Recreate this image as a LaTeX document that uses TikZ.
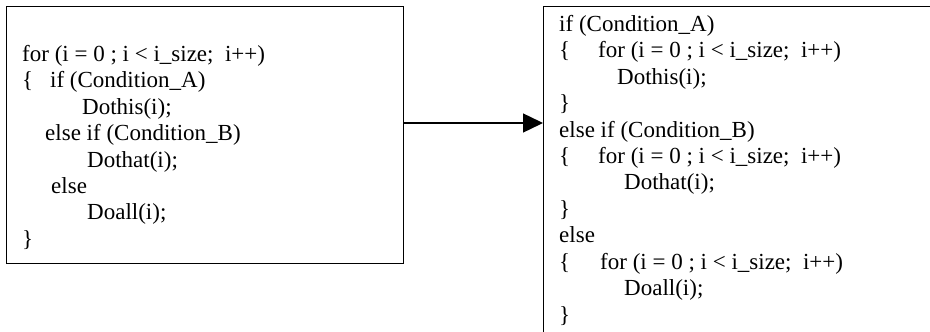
\documentclass[tikz,border=0pt]{standalone}
\usepackage{fontspec}
\setmainfont{Liberation Serif}
\usetikzlibrary{arrows.meta}
\begin{document}
\frenchspacing
\begin{tikzpicture}[x=1pt,y=-1pt,
  codebox/.style={draw=black, line width=1.4pt, rectangle, inner sep=0pt, anchor=north west},
  code/.style={anchor=base west, inner sep=0pt, font=\fontsize{23}{26.5}\selectfont},
  link/.style={line width=1.4pt, -{Triangle[length=20pt,width=19pt]}}]
  \useasboundingbox (0,0) rectangle (930,332);
  \clip (0,0) rectangle (930,332);

  % original loop: one loop, branching inside
  \node[codebox, minimum width=397pt, minimum height=257pt] (lbox) at (6,6) {};
  \node[code] (ltext) at (22,61) {\begin{tabular}[t]{@{}l@{}}
    for (i = 0 ; i < i\_size;\ \ i++)\\
    \makebox[28pt][l]{\{}if (Condition\_A)\\
    \hspace*{60pt}Dothis(i);\\
    \hspace*{23pt}else if (Condition\_B)\\
    \hspace*{65pt}Dothat(i);\\
    \hspace*{29pt}else\\
    \hspace*{65pt}Doall(i);\\
    \}
  \end{tabular}};

  % transformed code: branching outside, one loop per branch
  \node[codebox, minimum width=420pt, minimum height=360pt] (rbox) at (543,6) {};
  \node[code] (rtext) at (559,31) {\begin{tabular}[t]{@{}l@{}}
    if (Condition\_A)\\
    \makebox[39pt][l]{\{}for (i = 0 ; i < i\_size;\ \ i++)\\
    \hspace*{58pt}Dothis(i);\\
    \}\\
    else if (Condition\_B)\\
    \makebox[39pt][l]{\{}for (i = 0 ; i < i\_size;\ \ i++)\\
    \hspace*{65pt}Dothat(i);\\
    \}\\
    else\\
    \makebox[41pt][l]{\{}for (i = 0 ; i < i\_size;\ \ i++)\\
    \hspace*{65pt}Doall(i);\\
    \}
  \end{tabular}};

  % transformation arrow
  \coordinate (lvl) at (0,123);
  \draw[link] (lbox.east |- lvl) -- (rbox.west |- lvl);
\end{tikzpicture}
\end{document}
